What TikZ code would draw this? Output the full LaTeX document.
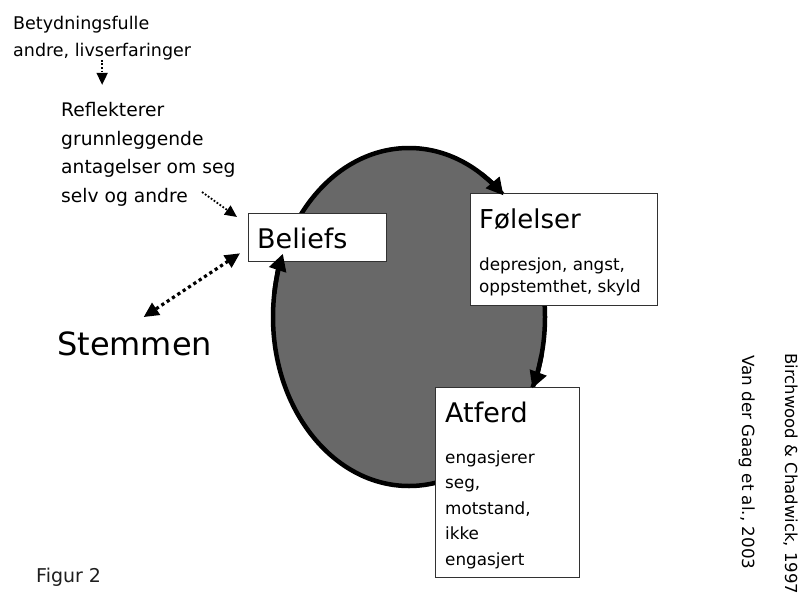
\documentclass[tikz,border=0pt]{standalone}
\usepackage{fontspec}
\setmainfont{DejaVu Sans}
\usetikzlibrary{arrows.meta}
\definecolor{ellgray}{RGB}{104,104,104}
\definecolor{boxline}{RGB}{50,50,50}
\definecolor{figgray}{RGB}{30,30,30}
\begin{document}
\begin{tikzpicture}[x=1pt,y=1pt,
  txt/.style={inner sep=0pt, anchor=base west, align=left},
  panel/.style={draw=boxline, line width=1.3pt, fill=white, inner sep=0pt, anchor=north west},
  cyc/.style={line width=4.5pt, -{Triangle[length=17pt,width=17pt]}},
  dotarrow/.style={line width=1.8pt, dash pattern=on 1.8pt off 1.8pt, -{Triangle[length=12pt,width=11pt]}},
  bigdot/.style={line width=3.2pt, dash pattern=on 3.2pt off 3.2pt, {Triangle[length=15pt,width=14pt]}-{Triangle[length=15pt,width=14pt]}}
]
\useasboundingbox (0,0) rectangle (800,-597);
\fill[white] (0,0) rectangle (800,-597);

% cycle ellipse
\draw[line width=4.5pt, fill=ellgray] (409,-317) ellipse [x radius=136, y radius=169];

% boxes
\node[panel, minimum width=138pt, minimum height=48pt] (beliefs) at (248,-213) {};
\node[panel, minimum width=187pt, minimum height=112pt] (fol) at (470,-193) {};
\node[panel, minimum width=144pt, minimum height=190pt] (atf) at (435,-387) {};

% box texts (base anchor = baseline of the last line)
\node[txt, font=\fontsize{27}{27}\selectfont] (beliefsT) at ([shift={(9,-35)}]beliefs.north west) {Beliefs};
\node[txt, font=\fontsize{26}{26}\selectfont] (folT) at ([shift={(9,-35)}]fol.north west) {Følelser};
\node[txt, font=\fontsize{16.8}{22}\selectfont] (folS) at ([shift={(9,-99)}]fol.north west) {depresjon, angst,\\oppstemthet, skyld};
\node[txt, font=\fontsize{27}{27}\selectfont] (atfT) at ([shift={(10,-35)}]atf.north west) {Atferd};
\node[txt, font=\fontsize{16.8}{25.5}\selectfont] (atfS) at ([shift={(10,-178)}]atf.north west) {engasjerer\\seg,\\motstand,\\ikke\\engasjert};

% cycle arrowheads
\draw[cyc] (481.07,-173.68) arc[start angle=58, end angle=46, x radius=136, y radius=169];
\draw[cyc] (541.52,-355.02) arc[start angle=-13, end angle=-25, x radius=136, y radius=169];
\draw[cyc] (274.32,-293.48) arc[start angle=172, end angle=158, x radius=136, y radius=169];

% left texts
\node[txt, font=\fontsize{17.5}{27}\selectfont] (betyd) at (13,-56) {Betydningsfulle\\andre, livserfaringer};
\node[txt, font=\fontsize{18.7}{28.5}\selectfont] (refl) at (61,-202) {Reflekterer\\grunnleggende\\antagelser om seg\\selv og andre};
\node[txt, font=\fontsize{32}{32}\selectfont] (stemmen) at (57,-355) {Stemmen};

% dotted connectors
\draw[dotarrow] (betyd.south) -- ++(0,-25);
\draw[dotarrow] ([shift={(-46,21)}]beliefs.north west) -- ([shift={(-11,-4)}]beliefs.north west);
\draw[bigdot] ([shift={(-8,9)}]beliefs.south west) -- ([shift={(9,14)}]stemmen.north);

% references
\node[txt, rotate=-90, font=\fontsize{16.5}{16.5}\selectfont] (birch) at (785,-353) {Birchwood \& Chadwick, 1997};
\node[txt, rotate=-90, font=\fontsize{16.7}{16.7}\selectfont] (gaag) at (742,-355) {Van der Gaag et al., 2003};
\node[txt, text=figgray, font=\fontsize{19}{19}\selectfont] (figur) at (36,-582) {Figur 2};
\end{tikzpicture}
\end{document}
